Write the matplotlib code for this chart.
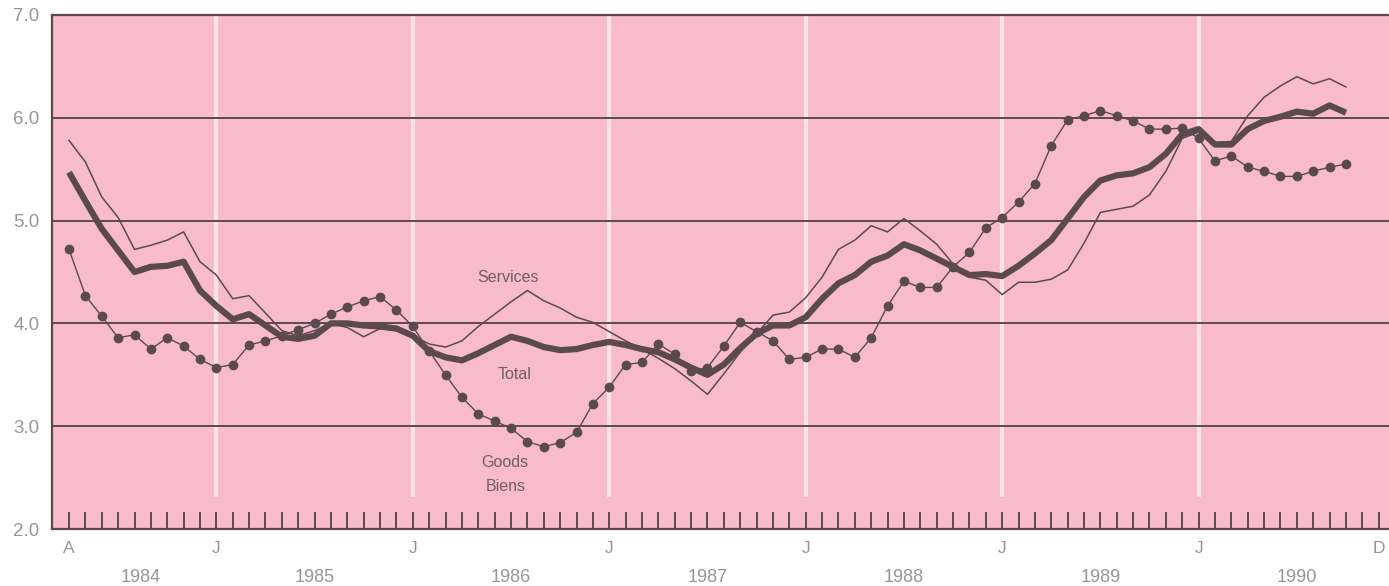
# Consumer price inflation chart: goods, services and total, April 1984 to 1990.

import matplotlib

matplotlib.use("Agg")
import matplotlib.pyplot as plt
import numpy as np

plt.rcParams["font.family"] = ["Liberation Sans", "DejaVu Sans"]

# Monthly values, month 0 = April 1984.
goods = [
    4.72, 4.27, 4.07, 3.86, 3.89, 3.75, 3.86, 3.78, 3.65, 3.57,
    3.60, 3.79, 3.83, 3.88, 3.94, 4.00, 4.09, 4.16, 4.22, 4.26,
    4.13, 3.97, 3.73, 3.50, 3.28, 3.12, 3.05, 2.98, 2.85, 2.80,
    2.84, 2.94, 3.22, 3.38, 3.60, 3.62, 3.80, 3.70, 3.54, 3.57,
    3.78, 4.01, 3.92, 3.83, 3.65, 3.67, 3.75, 3.75, 3.67, 3.86,
    4.17, 4.41, 4.35, 4.35, 4.55, 4.69, 4.93, 5.03, 5.18, 5.36,
    5.73, 5.98, 6.02, 6.07, 6.02, 5.97, 5.89, 5.89, 5.90, 5.80,
    5.58, 5.63, 5.52, 5.48, 5.43, 5.43, 5.48, 5.52, 5.55,
]
services = [
    5.78, 5.57, 5.23, 5.03, 4.72, 4.76, 4.81, 4.89, 4.60, 4.47,
    4.24, 4.27, 4.10, 3.93, 3.88, 3.93, 4.00, 3.96, 3.87, 3.95,
    3.93, 3.88, 3.80, 3.77, 3.83, 3.97, 4.09, 4.21, 4.32, 4.22,
    4.15, 4.06, 4.01, 3.92, 3.83, 3.75, 3.66, 3.56, 3.44, 3.31,
    3.51, 3.72, 3.90, 4.08, 4.11, 4.25, 4.45, 4.72, 4.81, 4.95,
    4.89, 5.02, 4.90, 4.77, 4.58, 4.45, 4.42, 4.28, 4.40, 4.40,
    4.43, 4.52, 4.78, 5.08, 5.11, 5.14, 5.25, 5.48, 5.80, 5.86,
    5.76, 5.77, 6.02, 6.20, 6.31, 6.40, 6.33, 6.38, 6.30,
]
total = [
    5.47, 5.19, 4.92, 4.71, 4.50, 4.55, 4.56, 4.60, 4.32, 4.17,
    4.04, 4.09, 3.98, 3.87, 3.85, 3.88, 4.00, 4.00, 3.98, 3.97,
    3.95, 3.88, 3.73, 3.67, 3.64, 3.71, 3.79, 3.87, 3.83, 3.77,
    3.74, 3.75, 3.79, 3.82, 3.79, 3.75, 3.72, 3.65, 3.57, 3.50,
    3.60, 3.76, 3.90, 3.98, 3.98, 4.06, 4.24, 4.39, 4.47, 4.60,
    4.66, 4.77, 4.71, 4.63, 4.55, 4.47, 4.48, 4.46, 4.56, 4.68,
    4.81, 5.02, 5.23, 5.39, 5.44, 5.46, 5.52, 5.65, 5.84, 5.89,
    5.74, 5.74, 5.89, 5.97, 6.01, 6.06, 6.04, 6.12, 6.05,
]

# Axis labels
month_letters = ["A", "J", "J", "J", "J", "J", "J", "D"]
letter_months = [0, 9, 21, 33, 45, 57, 69, 80]
years = ["1984", "1985", "1986", "1987", "1988", "1989", "1990"]
year_months = [4.4, 15, 27, 39, 51, 63, 75]
y_ticks = [2.0, 3.0, 4.0, 5.0, 6.0, 7.0]

LINE = "#5a4a4f"
PINK = "#f7bbcb"
LABEL = "#9a9496"

months = np.arange(len(goods))

fig = plt.figure(figsize=(13.89, 5.86), dpi=100)
ax = fig.add_axes([52 / 1389, 1 - 529 / 586, 1 - 52 / 1389, (529 - 15) / 586])
ax.set_facecolor(PINK)
ax.set_xlim(-1.04, 80.63)
ax.set_ylim(2.0, 7.0)

# White year separators and horizontal grid lines
ax.vlines(letter_months[1:-1], 2.31, 7.0, color="#fbe3ea", lw=3, zorder=1)
for yv in y_ticks[1:-1]:
    ax.axhline(yv, color=LINE, lw=1.4, zorder=2)

ax.plot(months, services, color=LINE, lw=1.1, zorder=3)
ax.plot(months, goods, color=LINE, lw=1.0, marker="o", markersize=6, zorder=4)
ax.plot(months, total, color=LINE, lw=4.5, solid_joinstyle="round",
        solid_capstyle="butt", zorder=5)

# Series labels
text_kw = dict(color="#6e5f63", fontsize=11.5, ha="center", va="center")
ax.text(26.8, 4.45, "Services", **text_kw)
ax.text(27.2, 3.50, "Total", **text_kw)
ax.text(26.6, 2.65, "Goods", **text_kw)
ax.text(26.7, 2.41, "Biens", **text_kw)

# Spines
for side in ["top", "left", "bottom"]:
    ax.spines[side].set_color(LINE)
    ax.spines[side].set_linewidth(1.6)
ax.spines["right"].set_visible(False)

# Monthly ticks pointing into the plot
ax.set_xticks(np.arange(0, 81))
ax.set_xticklabels([])
ax.tick_params(axis="x", direction="in", length=12.6, width=1.4, color=LINE)
ax.set_yticks(y_ticks)
ax.set_yticklabels([f"{v:.1f}" for v in y_ticks])
ax.tick_params(axis="y", length=0, pad=9, labelsize=13.5, labelcolor=LABEL)

trans = ax.get_xaxis_transform()
for m, lab in zip(letter_months, month_letters):
    ax.text(m, -0.037, lab, transform=trans, ha="center", va="center",
            fontsize=12.5, color=LABEL)
for m, lab in zip(year_months, years):
    ax.text(m, -0.095, lab, transform=trans, ha="center", va="center",
            fontsize=13, color=LABEL)

fig.savefig("out.png", dpi=100)
plt.close(fig)
